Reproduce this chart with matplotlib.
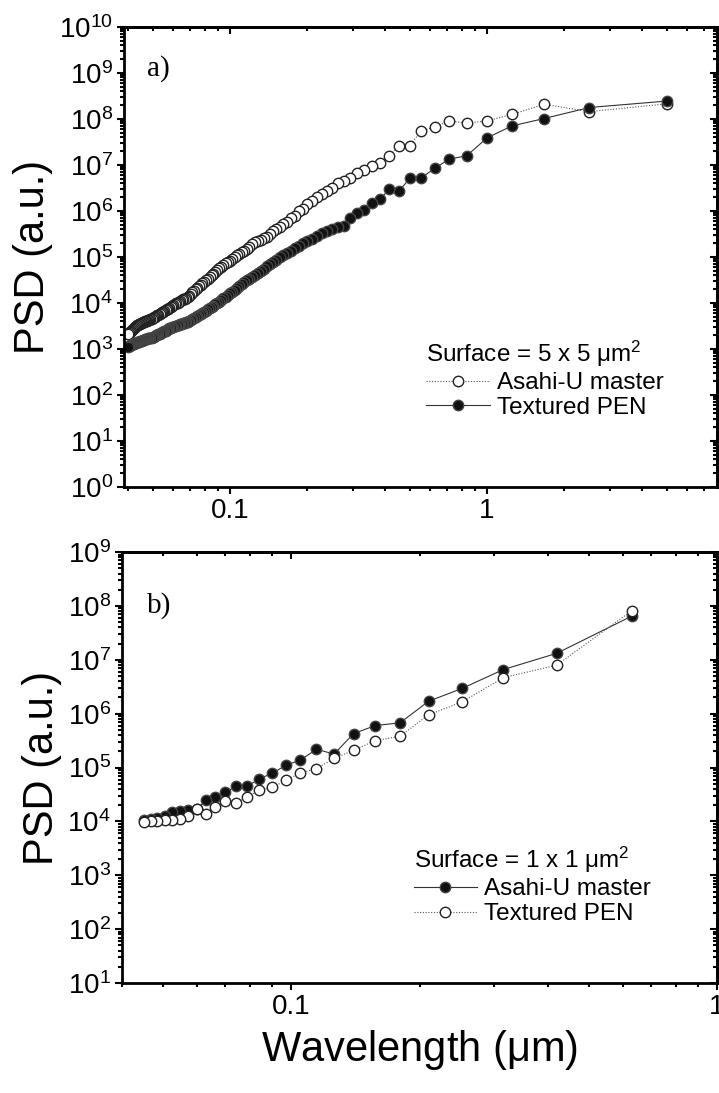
import numpy as np
import matplotlib
matplotlib.use('Agg')
import matplotlib.pyplot as plt
from matplotlib.ticker import LogLocator, FuncFormatter, NullFormatter

plt.rcParams['font.family'] = ['Liberation Sans', 'DejaVu Sans']
plt.rcParams['mathtext.fontset'] = 'custom'
plt.rcParams['mathtext.rm'] = 'Liberation Sans'
plt.rcParams['mathtext.default'] = 'regular'

# panel a) 5 x 5 um scan, wavelength = scan size / harmonic index
scan_a = 5.0
harm_a = np.arange(1, 126)
# log10(PSD)
asahi_a_log = [
    8.33, 8.16, 8.32, 8.10, 7.96, 7.91, 7.96, 7.82, 7.75, 7.42,
    7.42, 7.20, 7.04, 6.98, 6.89, 6.83, 6.72, 6.65, 6.61, 6.50,
    6.44, 6.38, 6.30, 6.22, 6.15, 6.05, 6.00, 5.90, 5.84, 5.76,
    5.72, 5.66, 5.60, 5.56, 5.50, 5.44, 5.42, 5.38, 5.34, 5.32,
    5.28, 5.22, 5.18, 5.14, 5.10, 5.07, 5.04, 5.00, 4.96, 4.92,
    4.89, 4.86, 4.83, 4.79, 4.76, 4.72, 4.68, 4.64, 4.60, 4.57,
    4.53, 4.50, 4.46, 4.43, 4.40, 4.37, 4.33, 4.30, 4.27, 4.23,
    4.20, 4.16, 4.13, 4.11, 4.09, 4.08, 4.06, 4.04, 4.02, 4.00,
    3.99, 3.97, 3.95, 3.93, 3.91, 3.89, 3.88, 3.86, 3.84, 3.83,
    3.81, 3.80, 3.78, 3.77, 3.75, 3.73, 3.72, 3.70, 3.69, 3.67,
    3.66, 3.65, 3.64, 3.63, 3.62, 3.61, 3.60, 3.59, 3.58, 3.57,
    3.56, 3.55, 3.54, 3.53, 3.52, 3.50, 3.48, 3.46, 3.44, 3.42,
    3.40, 3.38, 3.36, 3.34, 3.32,
]
pen_a_log = [
    8.39, 8.25, 8.01, 7.85, 7.59, 7.20, 7.13, 6.93, 6.72, 6.71,
    6.43, 6.48, 6.26, 6.17, 6.02, 5.96, 5.85, 5.67, 5.65, 5.61,
    5.57, 5.52, 5.46, 5.40, 5.35, 5.30, 5.25, 5.19, 5.14, 5.09,
    5.04, 4.99, 4.94, 4.89, 4.84, 4.80, 4.75, 4.70, 4.66, 4.61,
    4.57, 4.53, 4.49, 4.45, 4.41, 4.37, 4.33, 4.29, 4.25, 4.21,
    4.17, 4.14, 4.10, 4.06, 4.02, 3.99, 3.97, 3.94, 3.91, 3.89,
    3.86, 3.83, 3.81, 3.78, 3.76, 3.74, 3.72, 3.70, 3.68, 3.66,
    3.63, 3.61, 3.59, 3.58, 3.57, 3.56, 3.55, 3.54, 3.53, 3.52,
    3.51, 3.50, 3.48, 3.47, 3.46, 3.45, 3.43, 3.42, 3.40, 3.39,
    3.37, 3.36, 3.35, 3.33, 3.32, 3.31, 3.30, 3.29, 3.27, 3.26,
    3.25, 3.25, 3.24, 3.23, 3.22, 3.21, 3.21, 3.20, 3.19, 3.18,
    3.17, 3.17, 3.16, 3.15, 3.15, 3.14, 3.13, 3.12, 3.11, 3.10,
    3.09, 3.08, 3.07, 3.06, 3.05,
]

# panel b) 1 x 1 um scan
scan_b = 1.26
harm_b = np.arange(2, 29)
asahi_b_log = [7.81, 7.12, 6.82, 6.47, 6.23, 5.83, 5.78, 5.63, 5.25, 5.34,
               5.14, 5.04, 4.89, 4.79, 4.65, 4.65, 4.54, 4.45, 4.39, 4.23,
               4.21, 4.20, 4.17, 4.10, 4.07, 4.04, 4.02]
pen_b_log = [7.91, 6.90, 6.67, 6.22, 5.98, 5.58, 5.50, 5.32, 5.17, 4.98,
             4.90, 4.76, 4.63, 4.58, 4.46, 4.35, 4.37, 4.27, 4.14, 4.24,
             4.11, 4.04, 4.02, 4.02, 4.01, 4.00, 3.99]

wl_a = scan_a / harm_a
wl_b = scan_b / harm_b

open_style = dict(ls=(0, (1, 1.5)), lw=0.8, color='#555555', marker='o', ms=7.5,
                  mfc='white', mec='#222222', mew=1.0)
filled_style = dict(ls='-', lw=0.8, color='#333333', marker='o', ms=7.5,
                    mfc='#111111', mec='#444444', mew=1.0)

leg_font = {'family': ['Liberation Sans', 'DejaVu Sans'], 'size': 17.5}

fig = plt.figure(figsize=(7.19, 10.93), dpi=100)
ax1 = fig.add_axes([0.1725, 0.5544, 0.8248, 0.4209])
ax2 = fig.add_axes([0.1697, 0.1006, 0.8275, 0.3943])

pow_fmt = FuncFormatter(lambda v, p: r'$10^{%d}$' % round(np.log10(v)))
dec_fmt = FuncFormatter(lambda v, p: ('%g' % v))


def style_axes(ax, ylim):
    ax.set_xscale('log')
    ax.set_yscale('log')
    ax.set_ylim(*ylim)
    ax.yaxis.set_major_locator(LogLocator(base=10, numticks=20))
    ax.yaxis.set_minor_locator(LogLocator(base=10, subs=np.arange(2, 10), numticks=20))
    ax.yaxis.set_major_formatter(pow_fmt)
    ax.yaxis.set_minor_formatter(NullFormatter())
    ax.xaxis.set_major_formatter(dec_fmt)
    ax.xaxis.set_minor_formatter(NullFormatter())
    for s in ax.spines.values():
        s.set_linewidth(2.0)
    ax.tick_params(which='both', direction='out', width=1.5, labelsize=20, pad=3)
    ax.tick_params(which='major', length=5)
    ax.tick_params(which='minor', length=3)
    # mirrored ticks on top/right pointing inward
    sx = ax.secondary_xaxis('top', functions=(lambda x: x, lambda x: x))
    sy = ax.secondary_yaxis('right', functions=(lambda y: y, lambda y: y))
    for sec in (sx, sy):
        sec.tick_params(which='both', direction='in', width=1.5,
                        labeltop=False, labelright=False)
        sec.tick_params(which='major', length=5)
        sec.tick_params(which='minor', length=3)
        sec.xaxis.set_major_formatter(NullFormatter())
        sec.xaxis.set_minor_formatter(NullFormatter())
        sec.yaxis.set_major_formatter(NullFormatter())
        sec.yaxis.set_minor_formatter(NullFormatter())
        for s in sec.spines.values():
            s.set_linewidth(2.0)
    sy.yaxis.set_major_locator(LogLocator(base=10, numticks=20))
    sy.yaxis.set_minor_locator(LogLocator(base=10, subs=np.arange(2, 10), numticks=20))
    ax.set_ylabel('PSD (a.u.)', fontsize=30, labelpad=4)


def add_legend(ax, handles, title, anchor):
    leg = ax.legend(handles, ['Asahi-U master', 'Textured PEN'], title=title,
                    loc='upper left', bbox_to_anchor=anchor, frameon=False,
                    prop=leg_font, title_fontproperties=leg_font,
                    handlelength=2.6, handletextpad=0.3, labelspacing=0.12,
                    borderpad=0, borderaxespad=0, alignment='left')
    return leg


# ---- panel a
h_open, = ax1.plot(wl_a, 10 ** np.array(asahi_a_log), **open_style)
h_fill, = ax1.plot(wl_a, 10 ** np.array(pen_a_log), **filled_style)
ax1.set_xlim(0.0387, 7.85)
style_axes(ax1, (1, 1e10))
ax1.text(0.039, 0.909, 'a)', transform=ax1.transAxes, family='Liberation Serif',
         fontsize=21, va='center', ha='left')
add_legend(ax1, [h_open, h_fill], r'Surface = 5 x 5 $\mu$m$^2$', (0.51, 0.322))

# ---- panel b
h_fill_b, = ax2.plot(wl_b, 10 ** np.array(asahi_b_log), **filled_style)
h_open_b, = ax2.plot(wl_b, 10 ** np.array(pen_b_log), **open_style)
ax2.set_xlim(0.04, 1.0)
style_axes(ax2, (10, 1e9))
ax2.text(0.042, 0.875, 'b)', transform=ax2.transAxes, family='Liberation Serif',
         fontsize=21, va='center', ha='left')
add_legend(ax2, [h_fill_b, h_open_b], r'Surface = 1 x 1 $\mu$m$^2$', (0.49, 0.32))
ax2.set_xlabel(r'Wavelength ($\mu$m)', fontsize=30, labelpad=6)

fig.savefig('out.png', dpi=100)
